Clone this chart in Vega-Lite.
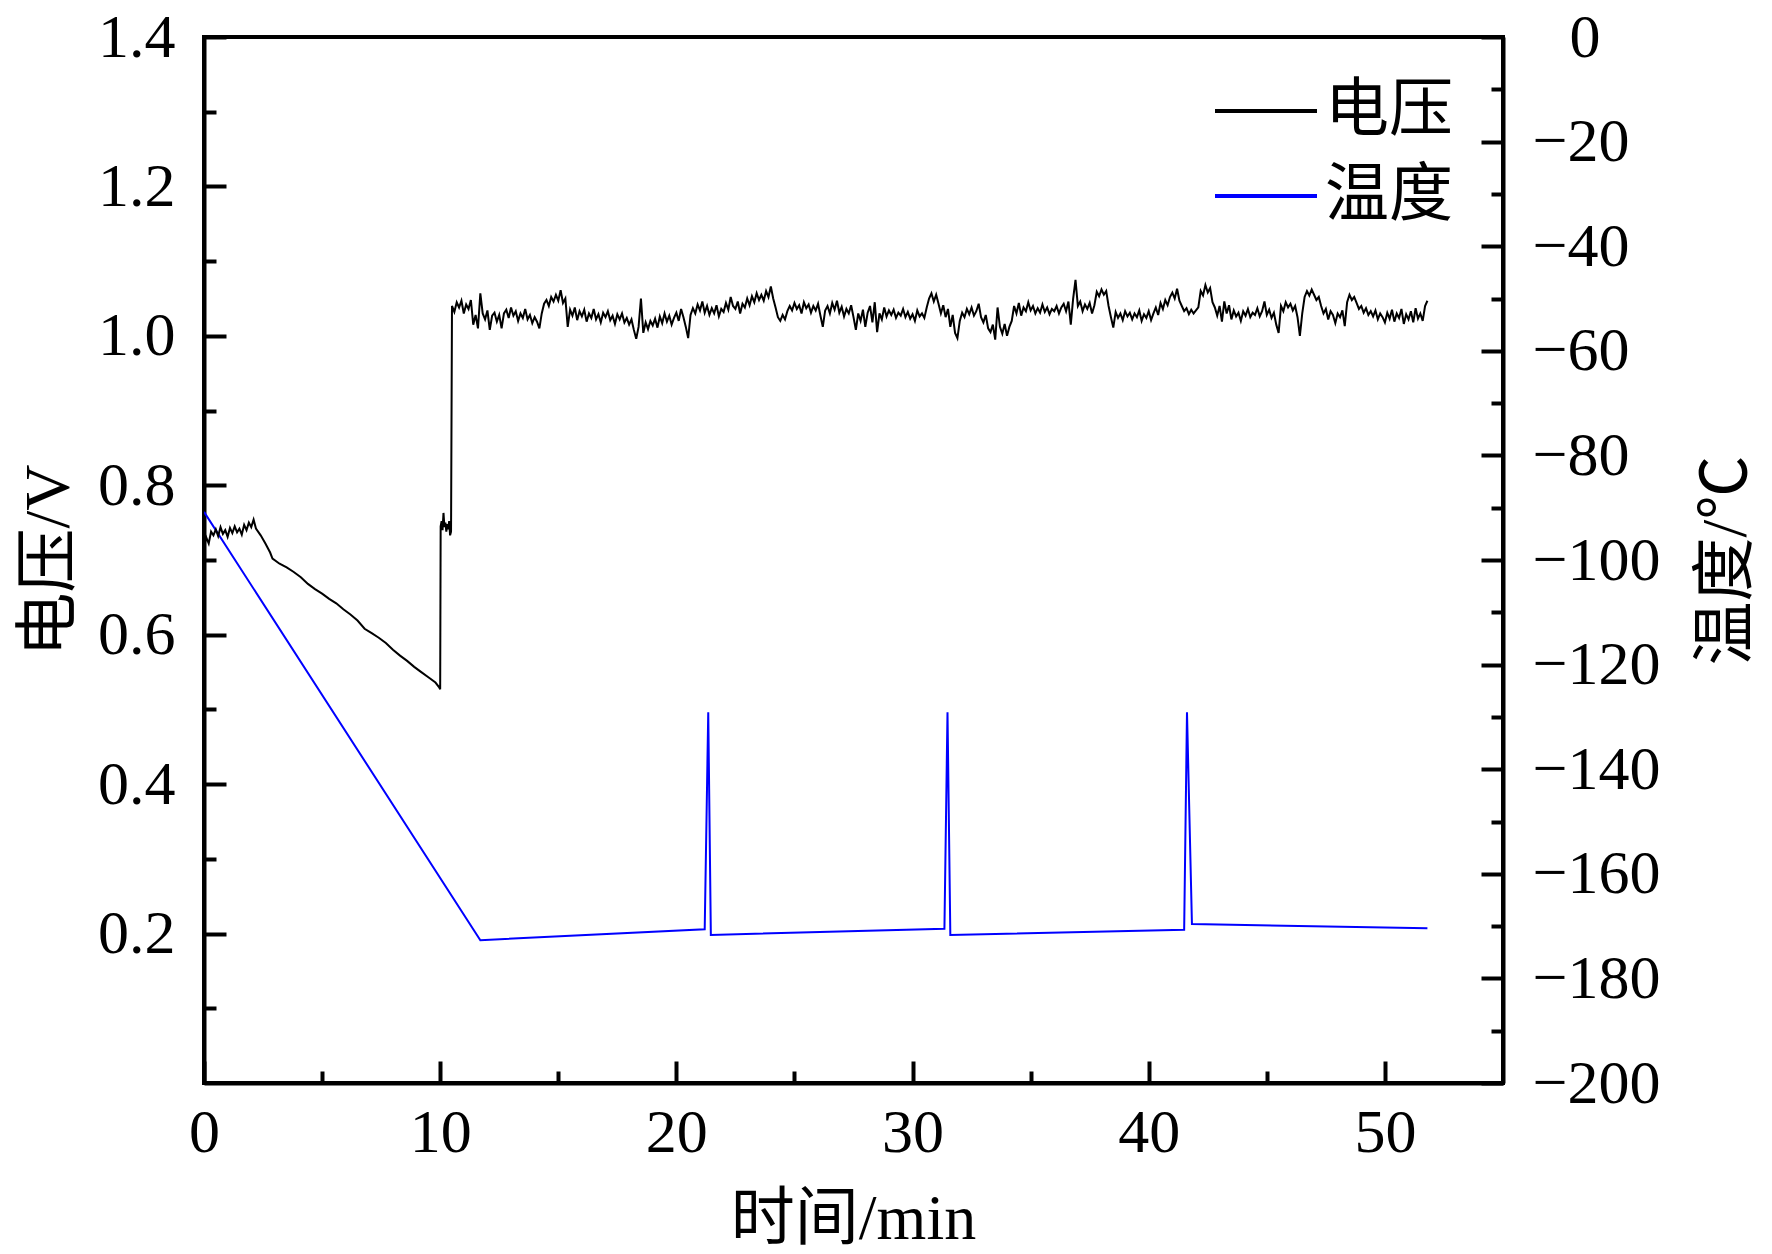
{
"$schema":"https://vega.github.io/schema/vega-lite/v6.json",
"width":1299,"height":1046,
"autosize":{"type":"none"},
"padding":{"left":204,"top":37,"right":269,"bottom":171},
"background":"white",
"datasets":{
"volt":[
{"t":0,"v":0.718},{"t":0.1,"v":0.730},{"t":0.2,"v":0.722},{"t":0.3,"v":0.738},{"t":0.4,"v":0.733},{"t":0.5,"v":0.741},{"t":0.6,"v":0.732},{"t":0.7,"v":0.744},{"t":0.8,"v":0.735},{"t":0.9,"v":0.740},
{"t":1.0,"v":0.731},{"t":1.1,"v":0.743},{"t":1.2,"v":0.736},{"t":1.3,"v":0.745},{"t":1.4,"v":0.737},{"t":1.5,"v":0.742},{"t":1.6,"v":0.734},{"t":1.7,"v":0.747},{"t":1.8,"v":0.740},{"t":1.9,"v":0.750},
{"t":2.0,"v":0.744},{"t":2.1,"v":0.754},{"t":2.2,"v":0.742},{"t":2.4,"v":0.733},{"t":2.6,"v":0.722},{"t":2.8,"v":0.710},{"t":2.9,"v":0.702},{"t":3.2,"v":0.695},{"t":3.5,"v":0.690},{"t":3.8,"v":0.684},
{"t":4.1,"v":0.677},{"t":4.4,"v":0.668},{"t":4.7,"v":0.661},{"t":5.0,"v":0.655},{"t":5.3,"v":0.648},{"t":5.6,"v":0.642},{"t":5.9,"v":0.634},{"t":6.2,"v":0.627},{"t":6.5,"v":0.619},{"t":6.8,"v":0.608},
{"t":7.1,"v":0.602},{"t":7.4,"v":0.596},{"t":7.7,"v":0.589},{"t":8.0,"v":0.580},{"t":8.3,"v":0.572},{"t":8.6,"v":0.565},{"t":8.9,"v":0.557},{"t":9.2,"v":0.550},{"t":9.5,"v":0.543},{"t":9.8,"v":0.536},
{"t":9.95,"v":0.530},{"t":10.0,"v":0.527},{"t":10.02,"v":0.745},{"t":10.06,"v":0.752},{"t":10.1,"v":0.740},{"t":10.14,"v":0.763},{"t":10.18,"v":0.744},{"t":10.22,"v":0.750},{"t":10.26,"v":0.738},{"t":10.3,"v":0.748},
{"t":10.34,"v":0.741},{"t":10.38,"v":0.752},{"t":10.42,"v":0.733},{"t":10.46,"v":0.738},
{"t":10.5,"v":1.040},{"t":10.6,"v":1.032},{"t":10.7,"v":1.045},{"t":10.8,"v":1.038},{"t":10.9,"v":1.047},{"t":11.0,"v":1.030},{"t":11.1,"v":1.042},{"t":11.2,"v":1.036},{"t":11.3,"v":1.048},{"t":11.4,"v":1.015},
{"t":11.5,"v":1.028},{"t":11.6,"v":1.010},{"t":11.7,"v":1.057},{"t":11.8,"v":1.030},{"t":11.9,"v":1.022},{"t":12.0,"v":1.034},{"t":12.1,"v":1.008},{"t":12.2,"v":1.027},{"t":12.3,"v":1.031},{"t":12.4,"v":1.019},
{"t":12.5,"v":1.028},{"t":12.6,"v":1.010},{"t":12.7,"v":1.030},{"t":12.8,"v":1.035},{"t":12.9,"v":1.024},{"t":13.0,"v":1.038},{"t":13.1,"v":1.027},{"t":13.2,"v":1.033},{"t":13.3,"v":1.020},{"t":13.4,"v":1.030},
{"t":13.5,"v":1.024},{"t":13.6,"v":1.036},{"t":13.7,"v":1.022},{"t":13.8,"v":1.028},{"t":13.9,"v":1.017},{"t":14.0,"v":1.025},{"t":14.1,"v":1.019},{"t":14.2,"v":1.010},{"t":14.3,"v":1.030},{"t":14.4,"v":1.043},
{"t":14.5,"v":1.048},{"t":14.6,"v":1.040},{"t":14.7,"v":1.052},{"t":14.8,"v":1.046},{"t":14.9,"v":1.055},{"t":15.0,"v":1.047},{"t":15.1,"v":1.061},{"t":15.2,"v":1.044},{"t":15.3,"v":1.050},{"t":15.4,"v":1.012},
{"t":15.5,"v":1.035},{"t":15.6,"v":1.027},{"t":15.7,"v":1.038},{"t":15.8,"v":1.021},{"t":15.9,"v":1.033},{"t":16.0,"v":1.026},{"t":16.1,"v":1.035},{"t":16.2,"v":1.019},{"t":16.3,"v":1.030},{"t":16.4,"v":1.024},
{"t":16.5,"v":1.036},{"t":16.6,"v":1.022},{"t":16.7,"v":1.029},{"t":16.8,"v":1.018},{"t":16.9,"v":1.031},{"t":17.0,"v":1.025},{"t":17.1,"v":1.033},{"t":17.2,"v":1.021},{"t":17.3,"v":1.027},{"t":17.4,"v":1.016},
{"t":17.5,"v":1.029},{"t":17.6,"v":1.022},{"t":17.7,"v":1.030},{"t":17.8,"v":1.018},{"t":17.9,"v":1.024},{"t":18.0,"v":1.015},{"t":18.1,"v":1.022},{"t":18.2,"v":1.008},{"t":18.3,"v":0.996},{"t":18.4,"v":1.012},
{"t":18.5,"v":1.050},{"t":18.6,"v":1.004},{"t":18.7,"v":1.018},{"t":18.8,"v":1.009},{"t":18.9,"v":1.020},{"t":19.0,"v":1.014},{"t":19.1,"v":1.023},{"t":19.2,"v":1.011},{"t":19.3,"v":1.026},{"t":19.4,"v":1.017},
{"t":19.5,"v":1.030},{"t":19.6,"v":1.019},{"t":19.7,"v":1.027},{"t":19.8,"v":1.015},{"t":19.9,"v":1.024},{"t":20.0,"v":1.031},{"t":20.1,"v":1.020},{"t":20.2,"v":1.036},{"t":20.3,"v":1.025},{"t":20.4,"v":1.012},
{"t":20.5,"v":0.997},{"t":20.6,"v":1.028},{"t":20.7,"v":1.037},{"t":20.8,"v":1.030},{"t":20.9,"v":1.042},{"t":21.0,"v":1.034},{"t":21.1,"v":1.046},{"t":21.2,"v":1.031},{"t":21.3,"v":1.040},{"t":21.4,"v":1.028},
{"t":21.5,"v":1.037},{"t":21.6,"v":1.030},{"t":21.7,"v":1.041},{"t":21.8,"v":1.026},{"t":21.9,"v":1.036},{"t":22.0,"v":1.032},{"t":22.1,"v":1.044},{"t":22.2,"v":1.035},{"t":22.3,"v":1.052},{"t":22.4,"v":1.040},
{"t":22.5,"v":1.036},{"t":22.6,"v":1.046},{"t":22.7,"v":1.030},{"t":22.8,"v":1.043},{"t":22.9,"v":1.038},{"t":23.0,"v":1.050},{"t":23.1,"v":1.041},{"t":23.2,"v":1.053},{"t":23.3,"v":1.045},{"t":23.4,"v":1.057},
{"t":23.5,"v":1.048},{"t":23.6,"v":1.055},{"t":23.7,"v":1.047},{"t":23.8,"v":1.060},{"t":23.9,"v":1.052},{"t":24.0,"v":1.066},{"t":24.1,"v":1.050},{"t":24.2,"v":1.038},{"t":24.3,"v":1.025},{"t":24.4,"v":1.020},
{"t":24.5,"v":1.028},{"t":24.6,"v":1.022},{"t":24.7,"v":1.033},{"t":24.8,"v":1.040},{"t":24.9,"v":1.034},{"t":25.0,"v":1.044},{"t":25.1,"v":1.036},{"t":25.2,"v":1.041},{"t":25.3,"v":1.030},{"t":25.4,"v":1.045},
{"t":25.5,"v":1.037},{"t":25.6,"v":1.042},{"t":25.7,"v":1.031},{"t":25.8,"v":1.040},{"t":25.9,"v":1.034},{"t":26.0,"v":1.043},{"t":26.1,"v":1.027},{"t":26.2,"v":1.012},{"t":26.3,"v":1.034},{"t":26.4,"v":1.040},
{"t":26.5,"v":1.030},{"t":26.6,"v":1.044},{"t":26.7,"v":1.035},{"t":26.8,"v":1.047},{"t":26.9,"v":1.031},{"t":27.0,"v":1.039},{"t":27.1,"v":1.026},{"t":27.2,"v":1.036},{"t":27.3,"v":1.030},{"t":27.4,"v":1.041},
{"t":27.5,"v":1.025},{"t":27.6,"v":1.008},{"t":27.7,"v":1.030},{"t":27.8,"v":1.020},{"t":27.9,"v":1.035},{"t":28.0,"v":1.012},{"t":28.1,"v":1.031},{"t":28.2,"v":1.040},{"t":28.3,"v":1.018},{"t":28.4,"v":1.045},
{"t":28.5,"v":1.005},{"t":28.6,"v":1.030},{"t":28.7,"v":1.022},{"t":28.8,"v":1.038},{"t":28.9,"v":1.026},{"t":29.0,"v":1.034},{"t":29.1,"v":1.028},{"t":29.2,"v":1.035},{"t":29.3,"v":1.024},{"t":29.4,"v":1.031},
{"t":29.5,"v":1.027},{"t":29.6,"v":1.036},{"t":29.7,"v":1.025},{"t":29.8,"v":1.032},{"t":29.9,"v":1.023},{"t":30.0,"v":1.029},{"t":30.1,"v":1.020},{"t":30.2,"v":1.034},{"t":30.3,"v":1.026},{"t":30.4,"v":1.030},
{"t":30.5,"v":1.024},{"t":30.6,"v":1.038},{"t":30.7,"v":1.050},{"t":30.8,"v":1.057},{"t":30.9,"v":1.046},{"t":31.0,"v":1.055},{"t":31.1,"v":1.043},{"t":31.2,"v":1.030},{"t":31.3,"v":1.041},{"t":31.4,"v":1.025},
{"t":31.5,"v":1.036},{"t":31.6,"v":1.012},{"t":31.7,"v":1.028},{"t":31.8,"v":1.004},{"t":31.9,"v":0.997},{"t":32.0,"v":1.020},{"t":32.1,"v":1.031},{"t":32.2,"v":1.025},{"t":32.3,"v":1.036},{"t":32.4,"v":1.029},
{"t":32.5,"v":1.038},{"t":32.6,"v":1.027},{"t":32.7,"v":1.033},{"t":32.8,"v":1.043},{"t":32.9,"v":1.025},{"t":33.0,"v":1.018},{"t":33.1,"v":1.028},{"t":33.2,"v":1.010},{"t":33.3,"v":1.005},{"t":33.4,"v":1.015},
{"t":33.5,"v":0.995},{"t":33.6,"v":1.038},{"t":33.7,"v":1.012},{"t":33.8,"v":1.003},{"t":33.9,"v":1.016},{"t":34.0,"v":1.000},{"t":34.1,"v":1.012},{"t":34.2,"v":1.020},{"t":34.3,"v":1.040},{"t":34.4,"v":1.030},
{"t":34.5,"v":1.044},{"t":34.6,"v":1.027},{"t":34.7,"v":1.038},{"t":34.8,"v":1.033},{"t":34.9,"v":1.045},{"t":35.0,"v":1.034},{"t":35.1,"v":1.040},{"t":35.2,"v":1.030},{"t":35.3,"v":1.037},{"t":35.4,"v":1.031},
{"t":35.5,"v":1.042},{"t":35.6,"v":1.032},{"t":35.7,"v":1.038},{"t":35.8,"v":1.029},{"t":35.9,"v":1.036},{"t":36.0,"v":1.033},{"t":36.1,"v":1.040},{"t":36.2,"v":1.030},{"t":36.3,"v":1.038},{"t":36.4,"v":1.043},
{"t":36.5,"v":1.033},{"t":36.6,"v":1.046},{"t":36.7,"v":1.015},{"t":36.8,"v":1.050},{"t":36.9,"v":1.075},{"t":37.0,"v":1.040},{"t":37.1,"v":1.046},{"t":37.2,"v":1.033},{"t":37.3,"v":1.042},{"t":37.4,"v":1.036},
{"t":37.5,"v":1.044},{"t":37.6,"v":1.030},{"t":37.7,"v":1.041},{"t":37.8,"v":1.059},{"t":37.9,"v":1.053},{"t":38.0,"v":1.062},{"t":38.1,"v":1.055},{"t":38.2,"v":1.060},{"t":38.3,"v":1.040},{"t":38.4,"v":1.025},
{"t":38.5,"v":1.011},{"t":38.6,"v":1.032},{"t":38.7,"v":1.024},{"t":38.8,"v":1.030},{"t":38.9,"v":1.021},{"t":39.0,"v":1.033},{"t":39.1,"v":1.026},{"t":39.2,"v":1.031},{"t":39.3,"v":1.022},{"t":39.4,"v":1.030},
{"t":39.5,"v":1.025},{"t":39.6,"v":1.034},{"t":39.7,"v":1.020},{"t":39.8,"v":1.029},{"t":39.9,"v":1.024},{"t":40.0,"v":1.033},{"t":40.1,"v":1.021},{"t":40.2,"v":1.030},{"t":40.3,"v":1.038},{"t":40.4,"v":1.028},
{"t":40.5,"v":1.044},{"t":40.6,"v":1.036},{"t":40.7,"v":1.048},{"t":40.8,"v":1.041},{"t":40.9,"v":1.052},{"t":41.0,"v":1.058},{"t":41.1,"v":1.050},{"t":41.2,"v":1.063},{"t":41.3,"v":1.047},{"t":41.4,"v":1.040},
{"t":41.5,"v":1.033},{"t":41.6,"v":1.037},{"t":41.7,"v":1.029},{"t":41.8,"v":1.035},{"t":41.9,"v":1.030},{"t":42.0,"v":1.034},{"t":42.1,"v":1.038},{"t":42.2,"v":1.060},{"t":42.3,"v":1.054},{"t":42.4,"v":1.068},
{"t":42.5,"v":1.058},{"t":42.6,"v":1.064},{"t":42.7,"v":1.045},{"t":42.8,"v":1.038},{"t":42.9,"v":1.027},{"t":43.0,"v":1.040},{"t":43.1,"v":1.019},{"t":43.2,"v":1.046},{"t":43.3,"v":1.030},{"t":43.4,"v":1.041},
{"t":43.5,"v":1.022},{"t":43.6,"v":1.034},{"t":43.7,"v":1.026},{"t":43.8,"v":1.031},{"t":43.9,"v":1.020},{"t":44.0,"v":1.033},{"t":44.1,"v":1.027},{"t":44.2,"v":1.036},{"t":44.3,"v":1.025},{"t":44.4,"v":1.031},
{"t":44.5,"v":1.028},{"t":44.6,"v":1.037},{"t":44.7,"v":1.026},{"t":44.8,"v":1.033},{"t":44.9,"v":1.046},{"t":45.0,"v":1.028},{"t":45.1,"v":1.035},{"t":45.2,"v":1.024},{"t":45.3,"v":1.031},{"t":45.4,"v":1.015},
{"t":45.5,"v":1.004},{"t":45.6,"v":1.040},{"t":45.7,"v":1.033},{"t":45.8,"v":1.045},{"t":45.9,"v":1.038},{"t":46.0,"v":1.043},{"t":46.1,"v":1.034},{"t":46.2,"v":1.040},{"t":46.3,"v":1.025},{"t":46.4,"v":1.000},
{"t":46.5,"v":1.030},{"t":46.6,"v":1.052},{"t":46.7,"v":1.060},{"t":46.8,"v":1.054},{"t":46.9,"v":1.062},{"t":47.0,"v":1.055},{"t":47.1,"v":1.048},{"t":47.2,"v":1.052},{"t":47.3,"v":1.040},{"t":47.4,"v":1.030},
{"t":47.5,"v":1.036},{"t":47.6,"v":1.022},{"t":47.7,"v":1.033},{"t":47.8,"v":1.028},{"t":47.9,"v":1.017},{"t":48.0,"v":1.030},{"t":48.1,"v":1.025},{"t":48.2,"v":1.034},{"t":48.3,"v":1.013},{"t":48.4,"v":1.045},
{"t":48.5,"v":1.055},{"t":48.6,"v":1.048},{"t":48.7,"v":1.052},{"t":48.8,"v":1.044},{"t":48.9,"v":1.036},{"t":49.0,"v":1.040},{"t":49.1,"v":1.031},{"t":49.2,"v":1.037},{"t":49.3,"v":1.028},{"t":49.4,"v":1.033},
{"t":49.5,"v":1.026},{"t":49.6,"v":1.034},{"t":49.7,"v":1.022},{"t":49.8,"v":1.030},{"t":49.9,"v":1.025},{"t":50.0,"v":1.018},{"t":50.1,"v":1.031},{"t":50.2,"v":1.023},{"t":50.3,"v":1.035},{"t":50.4,"v":1.019},
{"t":50.5,"v":1.030},{"t":50.6,"v":1.024},{"t":50.7,"v":1.036},{"t":50.8,"v":1.016},{"t":50.9,"v":1.029},{"t":51.0,"v":1.022},{"t":51.1,"v":1.033},{"t":51.2,"v":1.018},{"t":51.3,"v":1.037},{"t":51.4,"v":1.023},
{"t":51.5,"v":1.030},{"t":51.6,"v":1.020},{"t":51.7,"v":1.040},{"t":51.8,"v":1.047}
],
"temp":[
{"t":0,"T":-90.8},{"t":11.7,"T":-172.7},{"t":21.2,"T":-170.6},{"t":21.35,"T":-129.1},{"t":21.46,"T":-171.7},
{"t":31.35,"T":-170.5},{"t":31.48,"T":-129.1},{"t":31.6,"T":-171.7},{"t":41.5,"T":-170.7},{"t":41.62,"T":-129.1},
{"t":41.83,"T":-169.6},{"t":51.8,"T":-170.4}
]
},
"config":{
"view":{"stroke":"black","strokeWidth":4},
"font":"Liberation Serif, Noto Sans CJK SC",
"axis":{
"domainColor":"black","domainWidth":4,"tickColor":"black","tickWidth":4,"grid":false,
"labelFont":"Liberation Serif","labelFontSize":62,"labelColor":"black","labelOverlap":false,"labelFlush":false,
"titleFont":"Liberation Serif, Noto Sans CJK SC","titleFontSize":64,"titleFontWeight":"normal","titleColor":"black"
}
},
"layer":[
{
"data":{"name":"temp"},
"mark":{"type":"line","strokeWidth":2,"clip":true},
"encoding":{
"x":{"field":"t","type":"quantitative","scale":{"domain":[0,55],"nice":false,"zero":false}},
"y":{"field":"T","type":"quantitative","scale":{"domain":[-200,0],"nice":false,"zero":false},
"axis":{"orient":"right","title":"温度/℃","values":[-200,-190,-180,-170,-160,-150,-140,-130,-120,-110,-100,-90,-80,-70,-60,-50,-40,-30,-20,-10,0],
"tickSize":{"condition":{"test":"datum.value % 20 === 0","value":-22},"value":-12},
"labelExpr":"datum.value % 20 === 0 ? datum.label : ''",
"labelPadding":{"condition":{"test":"datum.value === 0","value":88},"value":51},
"labelAlign":"left","labelBaseline":"middle",
"titleAngle":-90,"titleX":223,"titleY":523,"titleBaseline":"middle","titleAlign":"center"}},
"color":{"datum":"温度","type":"nominal"}
}
},
{
"data":{"name":"volt"},
"mark":{"type":"line","strokeWidth":2,"clip":true},
"encoding":{
"x":{"field":"t","type":"quantitative","scale":{"domain":[0,55],"nice":false,"zero":false},
"axis":{"title":"时间/min","values":[0,5,10,15,20,25,30,35,40,45,50],
"tickSize":{"condition":{"test":"datum.value % 10 === 0","value":-22},"value":-12},
"labelExpr":"datum.value % 10 === 0 ? datum.label : ''",
"labelPadding":41,"labelBaseline":"top","labelAlign":"center",
"titleX":649,"titleY":136,"titleBaseline":"middle","titleAlign":"center"}},
"y":{"field":"v","type":"quantitative","scale":{"domain":[0,1.4],"nice":false,"zero":false},
"axis":{"title":"电压/V","values":[0.1,0.2,0.3,0.4,0.5,0.6,0.7,0.8,0.9,1.0,1.1,1.2,1.3,1.4],
"tickSize":{"condition":{"test":"round(datum.value*10) % 2 === 0","value":-22},"value":-12},
"labelExpr":"round(datum.value*10) % 2 === 0 ? format(datum.value, '.1f') : ''",
"labelPadding":51,"labelAlign":"right","labelBaseline":"middle",
"titleAngle":-90,"titleX":-155,"titleY":523,"titleBaseline":"middle","titleAlign":"center"}},
"color":{"datum":"电压","type":"nominal",
"scale":{"domain":["电压","温度"],"range":["#000000","#0000ff"]},
"legend":{"orient":"none","legendX":1009,"legendY":21,"title":null,"symbolType":"stroke","symbolSize":10404,"symbolStrokeWidth":4,
"labelFont":"Liberation Serif, Noto Sans CJK SC","labelFontSize":64,"labelColor":"black","labelOffset":6,"rowPadding":-17,"padding":0,"labelLimit":0}}
}
}
],
"resolve":{"scale":{"y":"independent"}}
}
